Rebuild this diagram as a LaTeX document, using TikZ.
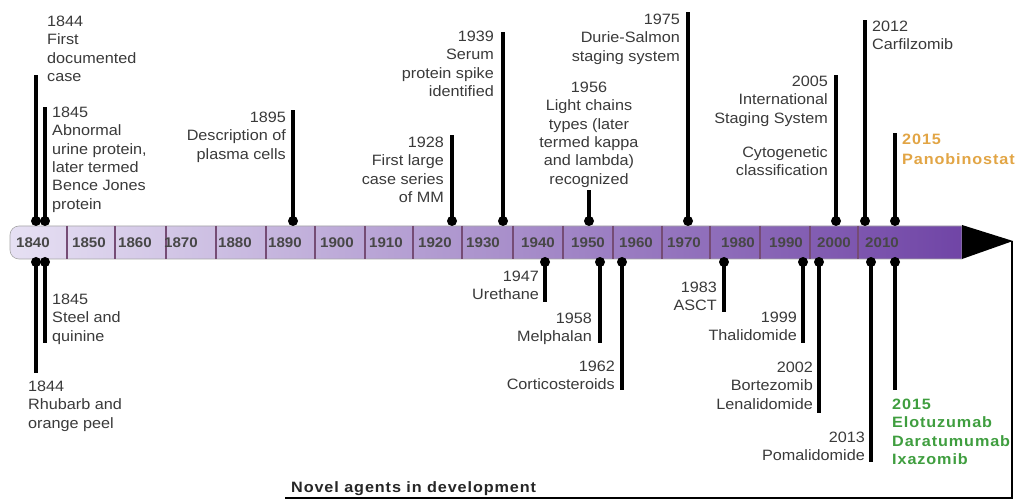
\documentclass[tikz,border=0pt]{standalone}
\usepackage{fontspec}
\setmainfont{Liberation Sans}[FakeStretch=1.08]
\newfontfamily\widefont{Liberation Sans}[FakeStretch=1.08,LetterSpace=6]
\definecolor{barL}{HTML}{E6E0F3}
\definecolor{barR}{HTML}{7045A6}
\definecolor{txt}{HTML}{3A3A3A}
\definecolor{grn}{HTML}{3F9E3F}
\definecolor{org}{HTML}{E2A545}
\begin{document}
\begin{tikzpicture}[x=1pt,y=-1pt,
  lbl/.style={font=\fontsize{15}{18.3}\selectfont, text=txt, inner sep=0pt},
  lblL/.style={lbl, anchor=north west, align=left},
  lblR/.style={lbl, anchor=north east, align=right},
  yr/.style={font=\fontsize{14}{16}\selectfont\bfseries, text=black!72, inner sep=0pt},
  dot/.style={circle, fill=black, inner sep=0pt, minimum size=10pt},
  stem/.style={line width=3.5pt, black},
  divider/.style={line width=1.3pt, draw=black!55!violet!70},
  frame/.style={line width=2pt, black}
]
\useasboundingbox (0,0) rectangle (1015,502);
\fill[white] (0,0) rectangle (1015,502);

% bar
\shade[left color=barL, right color=barR, draw=black!35, line width=0.6pt]
  (962,226) {[rounded corners=9pt] -- (10,226) -- (10,259)} -- (962,259) -- cycle;
\foreach \x in {67,115,166,216,266,315,365,413,462,513,563,613,662,710,760,810,858}
  \draw[divider] (\x,226) -- (\x,259);
\foreach \yr/\x in {1840/33,1850/89,1860/135,1870/181,1880/235,1890/285,1900/337,1910/386,1920/435,1930/483,1940/538,1950/588,1960/636,1970/684,1980/738,1990/786,2000/834,2010/882}
  \node[yr] (y\yr) at (\x,243) {\yr};
% arrowhead
\fill[black] (962,225) -- (1013,241) -- (962,259) -- cycle;
\coordinate (tip) at (1012,241);
\coordinate (corner) at (1012,498);
\coordinate (lineL) at (285,498);
\draw[frame] (tip) -- (corner) -- (lineL);
\node[font=\fontsize{15}{18}\selectfont\bfseries\widefont, text=black!85, inner sep=0pt, anchor=base west] (novel) at (291,493) {Novel agents in development};

% top events
\foreach \n/\x/\t in {a1/36/75, a2/45/107, a3/293/110, a4/452/135, a5/503/32, a6/589/190, a7/688/12, a8/836/75, a9/865/20, a10/895/133}{
  \node[dot] (\n) at (\x,221) {};
  \coordinate (\n e) at (\x,\t);
  \draw[stem] (\n.center) -- (\n e);
}
% bottom events
\foreach \n/\x/\t in {b1/36/373, b2/45/343, b3/545/302, b4/600/343, b5/622/390, b6/724/312, b7/803/343, b8/819/413, b9/871/462, b10/895/390}{
  \node[dot] (\n) at (\x,262) {};
  \coordinate (\n e) at (\x,\t);
  \draw[stem] (\n.center) -- (\n e);
}

% top labels
\node[lblL] (la1) at (47,16) {1844\\First\\documented\\case};
\node[lblL] (la2) at (52,107) {1845\\Abnormal\\urine protein,\\later termed\\Bence Jones\\protein};
\node[lblR] (la3) at (286,112) {1895\\Description of\\plasma cells};
\node[lblR] (la4) at (444,137) {1928\\First large\\case series\\of MM};
\node[lblR] (la5) at (494,31) {1939\\Serum\\protein spike\\identified};
\node[lbl, anchor=north, align=center] (la6) at (589,82) {1956\\Light chains\\types (later\\termed kappa\\and lambda)\\recognized};
\node[lblR] (la7) at (680,14) {1975\\Durie-Salmon\\staging system};
\node[lblR] (la8) at (828,76) {2005\\International\\Staging System\\[16pt]Cytogenetic\\classification};
\node[lblL] (la9) at (872,21) {2012\\Carfilzomib};
\node[lblL, text=org, font=\fontsize{15}{19.5}\selectfont\bfseries\widefont] (la10) at (902,134) {2015\\Panobinostat};

% bottom labels
\node[lblL] (lb2) at (52,294) {1845\\Steel and\\quinine};
\node[lblL] (lb1) at (28,381) {1844\\Rhubarb and\\orange peel};
\node[lblR] (lb3) at (539,271) {1947\\Urethane};
\node[lblR] (lb4) at (592,313) {1958\\Melphalan};
\node[lblR] (lb5) at (615,361) {1962\\Corticosteroids};
\node[lblR] (lb6) at (717,282) {1983\\ASCT};
\node[lblR] (lb7) at (797,312) {1999\\Thalidomide};
\node[lblR] (lb8) at (813,362) {2002\\Bortezomib\\Lenalidomide};
\node[lblR] (lb9) at (865,432) {2013\\Pomalidomide};
\node[lblL, text=grn, font=\fontsize{15}{18.3}\selectfont\bfseries\widefont] (lb10) at (892,399) {2015\\Elotuzumab\\Daratumumab\\Ixazomib};
\end{tikzpicture}
\end{document}
